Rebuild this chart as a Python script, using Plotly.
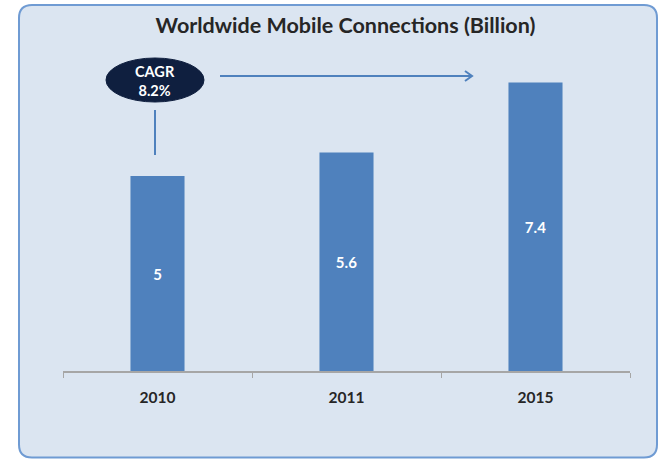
import plotly.graph_objects as go

# Data
years = ["2010", "2011", "2015"]
connections = [5, 5.6, 7.4]  # billions
title_text = "Worldwide Mobile Connections (Billion)"

# CAGR between first and last year
span = int(years[-1]) - int(years[0])
cagr = (connections[-1] / connections[0]) ** (1 / span) - 1
cagr_label = f"CAGR<br>{cagr * 100:.1f}%"

W, H = 659, 459
L, R, T, B = 63, 29, 40, 88
PLOT_W = W - L - R
PLOT_H = H - T - B
PX_PER_UNIT = 39.0
y_top = PLOT_H / PX_PER_UNIT


def px(x):
    return (x - L) / PLOT_W


def py(y):
    return (H - B - y) / PLOT_H


def rounded_rect(x0, y0, x1, y1, r):
    pts = [
        f"M {px(x0 + r)} {py(y0)}",
        f"L {px(x1 - r)} {py(y0)}",
        f"Q {px(x1)} {py(y0)} {px(x1)} {py(y0 + r)}",
        f"L {px(x1)} {py(y1 - r)}",
        f"Q {px(x1)} {py(y1)} {px(x1 - r)} {py(y1)}",
        f"L {px(x0 + r)} {py(y1)}",
        f"Q {px(x0)} {py(y1)} {px(x0)} {py(y1 - r)}",
        f"L {px(x0)} {py(y0 + r)}",
        f"Q {px(x0)} {py(y0)} {px(x0 + r)} {py(y0)}",
        "Z",
    ]
    return " ".join(pts)


FONT = "Lato"
BAR = "#4f81bd"

fig = go.Figure(
    go.Bar(
        x=years,
        y=connections,
        marker=dict(color=BAR, line=dict(width=0)),
        texttemplate="%{y}",
        textposition="inside",
        insidetextanchor="middle",
        textangle=0,
        textfont=dict(family=FONT, size=15, color="white", weight="bold"),
        hoverinfo="skip",
    )
)

shapes = [
    # panel background with rounded corners
    dict(
        type="path",
        xref="paper",
        yref="paper",
        path=rounded_rect(19, 5, 657, 457.5, 13),
        fillcolor="#dbe5f1",
        line=dict(color="#6f9bd3", width=2),
        layer="below",
    ),
    # CAGR badge
    dict(
        type="circle",
        xref="paper",
        yref="paper",
        x0=px(106),
        x1=px(204),
        y0=py(102),
        y1=py(58),
        fillcolor="#0f1f3f",
        line=dict(color="#0f1f3f", width=1),
    ),
    # connector from badge to first bar
    dict(
        type="line",
        xref="paper",
        yref="paper",
        x0=px(155),
        x1=px(155),
        y0=py(110),
        y1=py(155),
        line=dict(color=BAR, width=2),
    ),
    # growth arrow
    dict(
        type="path",
        xref="paper",
        yref="paper",
        path=(
            f"M {px(220)} {py(76)} L {px(472)} {py(76)} "
            f"M {px(465)} {py(71)} L {px(472)} {py(76)} L {px(465)} {py(81)}"
        ),
        line=dict(color=BAR, width=2),
    ),
]

annotations = [
    dict(
        text=cagr_label,
        xref="paper",
        yref="paper",
        x=px(155),
        y=py(81),
        xanchor="center",
        yanchor="middle",
        showarrow=False,
        font=dict(family=FONT, size=14.5, color="white", weight="bold"),
        align="center",
    ),
]

fig.update_layout(
    width=W,
    height=H,
    margin=dict(l=L, r=R, t=T, b=B),
    paper_bgcolor="white",
    plot_bgcolor="rgba(0,0,0,0)",
    showlegend=False,
    bargap=0.714,
    shapes=shapes,
    annotations=annotations,
    title=dict(
        text=title_text,
        x=(W / 2 + 16) / W,
        xanchor="center",
        y=1 - 25 / H,
        yanchor="middle",
        font=dict(family=FONT, size=21.5, color="#262626", weight="bold"),
    ),
    xaxis=dict(
        showline=True,
        linecolor="#a6a6a6",
        linewidth=1.5,
        ticks="outside",
        tickson="boundaries",
        ticklen=5,
        tickcolor="#a6a6a6",
        tickwidth=1,
        ticklabelstandoff=12,
        tickfont=dict(family=FONT, size=15.5, color="#262626", weight="bold"),
        showgrid=False,
        zeroline=False,
    ),
    yaxis=dict(
        range=[0, y_top],
        visible=False,
        showgrid=False,
        zeroline=False,
    ),
)

fig.write_html("out.html")
